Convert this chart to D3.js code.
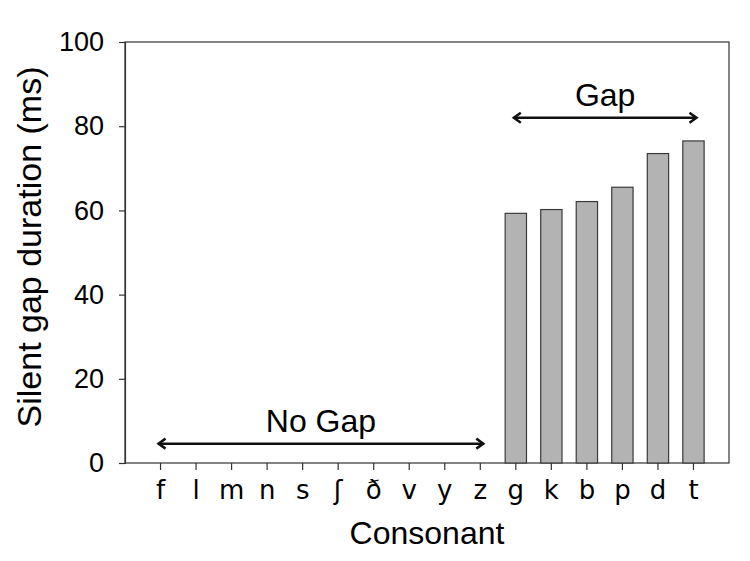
<!DOCTYPE html>
<html>
<head>
<meta charset="utf-8">
<script src="https://cdn.jsdelivr.net/npm/d3@7"></script>
<style>
  body { margin: 0; background: #fff; }
</style>
</head>
<body>
<svg width="750" height="561"></svg>
<script>
// data
const consonants = ["f", "l", "m", "n", "s", "ʃ", "ð", "v", "y", "z", "g", "k", "b", "p", "d", "t"];
const gapValues = [0, 0, 0, 0, 0, 0, 0, 0, 0, 0, 59.3, 60.2, 62.1, 65.5, 73.5, 76.5];
const yTicks = [0, 20, 40, 60, 80, 100];
const groupLabels = ["No Gap", "Gap"];
const groupFrom = ["f", "g"];
const groupTo = ["z", "t"];
const groupLevel = [4.6, 82];

const svg = d3.select("svg"),
  margin = { top: 42, right: 21, bottom: 98, left: 125 },
  width = +svg.attr("width"),
  height = +svg.attr("height");

const x = d3
  .scaleBand()
  .domain(consonants)
  .range([margin.left, width - margin.right])
  .paddingInner(0.4)
  .paddingOuter(0.7);

const y = d3
  .scaleLinear()
  .domain([0, 100])
  .range([height - margin.bottom, margin.top]);

const axisColor = "#333";
const sans = "Liberation Sans, Arial, sans-serif";

//frame
svg
  .append("rect")
  .attr("x", margin.left)
  .attr("y", margin.top)
  .attr("width", width - margin.left - margin.right)
  .attr("height", height - margin.top - margin.bottom)
  .attr("fill", "none")
  .attr("stroke", axisColor)
  .attr("stroke-width", 1.2);

//bars
svg
  .append("g")
  .selectAll("rect")
  .data(consonants.map((c, i) => ({ c, v: gapValues[i] })).filter((d) => d.v > 0))
  .join("rect")
  .attr("x", (d) => x(d.c))
  .attr("y", (d) => y(d.v))
  .attr("width", x.bandwidth())
  .attr("height", (d) => y(0) - y(d.v))
  .attr("fill", "#b3b3b3")
  .attr("stroke", "#3a3a3a")
  .attr("stroke-width", 1.2);

//y axis
const yAxis = svg
  .append("g")
  .attr("transform", `translate(${margin.left},0)`)
  .call(d3.axisLeft(y).tickValues(yTicks).tickSize(6).tickPadding(15));
yAxis.select(".domain").attr("stroke", axisColor).attr("stroke-width", 1.2);
yAxis.selectAll(".tick line").attr("stroke", axisColor).attr("stroke-width", 1.2);
yAxis
  .selectAll(".tick text")
  .attr("font-family", sans)
  .attr("font-size", 27)
  .attr("fill", "#000");

//x axis
const xAxis = svg
  .append("g")
  .attr("transform", `translate(0,${height - margin.bottom})`)
  .call(d3.axisBottom(x).tickSize(7).tickPadding(11));
xAxis.select(".domain").remove();
xAxis.selectAll(".tick line").attr("stroke", axisColor).attr("stroke-width", 1.2);
xAxis
  .selectAll(".tick text")
  .attr("font-family", "DejaVu Sans, sans-serif")
  .attr("font-size", 26)
  .attr("fill", "#000");

//axis titles
svg
  .append("text")
  .attr("x", margin.left + (width - margin.left - margin.right) / 2)
  .attr("y", 544)
  .attr("text-anchor", "middle")
  .attr("font-family", sans)
  .attr("font-size", 32)
  .text("Consonant");

svg
  .append("text")
  .attr("transform", "translate(41,247) rotate(-90)")
  .attr("text-anchor", "middle")
  .attr("font-family", sans)
  .attr("font-size", 34)
  .text("Silent gap duration (ms)");

//group arrows
const arrows = svg.append("g").attr("stroke", "#111").attr("stroke-width", 2.5).attr("fill", "none");
const head = 7;
groupLabels.forEach((label, i) => {
  const x1 = x(groupFrom[i]) + x.bandwidth() / 2 - 2,
    x2 = x(groupTo[i]) + x.bandwidth() / 2 + 3,
    yy = y(groupLevel[i]);
  arrows.append("line").attr("x1", x1).attr("x2", x2).attr("y1", yy).attr("y2", yy);
  arrows
    .append("path")
    .attr("d", `M${x1 + head},${yy - head / 1.4}L${x1},${yy}L${x1 + head},${yy + head / 1.4}`);
  arrows
    .append("path")
    .attr("d", `M${x2 - head},${yy - head / 1.4}L${x2},${yy}L${x2 - head},${yy + head / 1.4}`);
  svg
    .append("text")
    .attr("x", (x1 + x2) / 2)
    .attr("y", yy - 12)
    .attr("text-anchor", "middle")
    .attr("font-family", sans)
    .attr("font-size", 32)
    .text(label);
});
</script>
</body>
</html>
